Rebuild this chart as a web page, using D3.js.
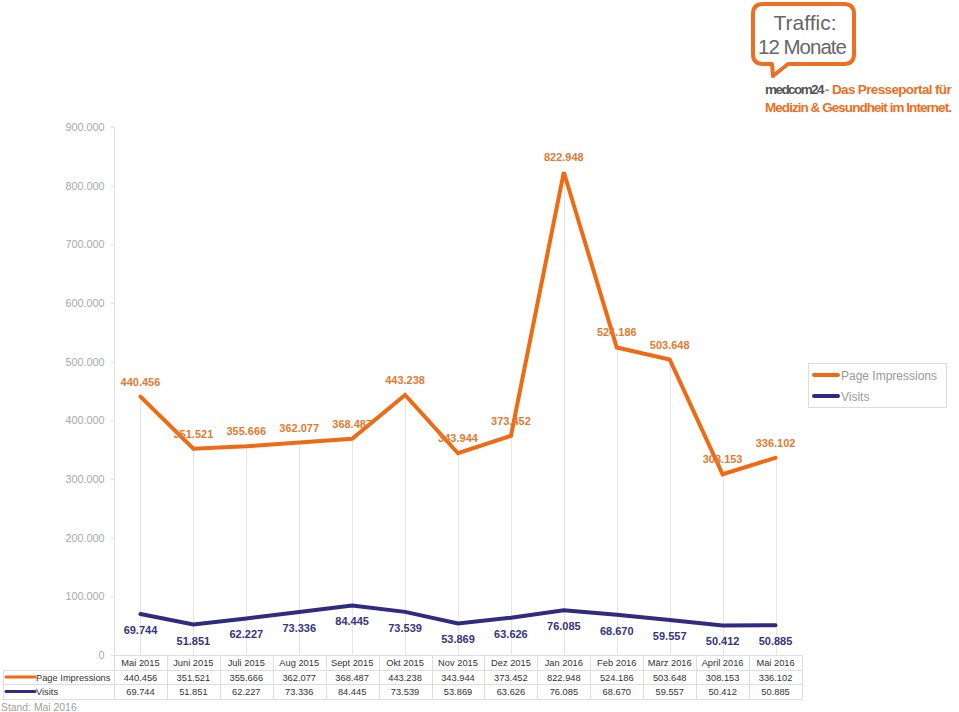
<!DOCTYPE html>
<html><head><meta charset="utf-8">
<script src="https://cdn.jsdelivr.net/npm/d3@7"></script>
<style>
html,body{margin:0;padding:0;background:#fff;}
svg{display:block;font-family:"Liberation Sans",Arial,sans-serif;}
</style></head>
<body><svg id="c" width="959" height="712"></svg>
<script>
const months = ["Mai 2015","Juni 2015","Juli 2015","Aug 2015","Sept 2015","Okt 2015","Nov 2015","Dez 2015","Jan 2016","Feb 2016","März 2016","April 2016","Mai 2016"];
const pageImpressions = [440456,351521,355666,362077,368487,443238,343944,373452,822948,524186,503648,308153,336102];
const visits = [69744,51851,62227,73336,84445,73539,53869,63626,76085,68670,59557,50412,50885];
const yTicks = [0,100000,200000,300000,400000,500000,600000,700000,800000,900000];
const seriesNames = ["Page Impressions","Visits"];
const seriesColors = ["#f06a14","#2e2b80"];
const labelColors = ["#e57a30","#36347f"];

const fmt = v => v === 0 ? "0" : d3.format(",.0f")(v).replace(/,/g, ".");
const svg = d3.select("#c");

const x = d3.scaleBand().domain(months).range([114, 802]).padding(0);
const cx = m => x(m) + x.bandwidth() / 2;
const y = d3.scaleLinear().domain([0, 900000]).range([655, 127]);

// y axis
const yAxis = svg.append("g").attr("transform", "translate(114.5,0)")
  .call(d3.axisLeft(y).tickValues(yTicks).tickFormat(fmt).tickSize(4).tickPadding(6));
yAxis.select(".domain").attr("stroke", "#e2e2e2").attr("d", "M-4," + y(900000) + "H0V" + y(0));
yAxis.selectAll(".tick line").attr("stroke", "#e2e2e2");
yAxis.selectAll(".tick text").attr("fill", "#a8a8a8").style("font-size", "10.8px").style("font-family", "Liberation Sans, Arial");

// drop lines
svg.append("g").selectAll("line").data(months).join("line")
  .attr("x1", d => Math.round(cx(d)) + 0.5).attr("x2", d => Math.round(cx(d)) + 0.5)
  .attr("y1", (d, i) => y(pageImpressions[i])).attr("y2", y(0))
  .attr("stroke", "#e6e6e6").attr("stroke-width", 1);

// lines
const series = [pageImpressions, visits];
series.forEach((s, k) => {
  const line = d3.line().x((d, i) => cx(months[i])).y(d => y(d));
  svg.append("path").datum(s).attr("d", line)
    .attr("fill", "none").attr("stroke", seriesColors[k]).attr("stroke-width", 4)
    .attr("stroke-linejoin", "miter").attr("stroke-linecap", "round");
});

// data labels
svg.append("g").selectAll("text").data(pageImpressions).join("text")
  .attr("x", (d, i) => cx(months[i])).attr("y", d => y(d) - 11)
  .attr("text-anchor", "middle").attr("fill", labelColors[0])
  .style("font-size", "11px").style("font-weight", "bold").text(fmt);
svg.append("g").selectAll("text").data(visits).join("text")
  .attr("x", (d, i) => cx(months[i])).attr("y", d => y(d) + 20)
  .attr("text-anchor", "middle").attr("fill", labelColors[1])
  .style("font-size", "11px").style("font-weight", "bold").text(fmt);

// data table
const tbl = svg.append("g");
const rowY = [655, 669.5, 684, 698.5];
const gridC = "#dedede";
tbl.append("line").attr("x1", 114).attr("x2", 802).attr("y1", rowY[0] + 0.5).attr("y2", rowY[0] + 0.5).attr("stroke", gridC);
[1, 2, 3].forEach(r => tbl.append("line").attr("x1", 3).attr("x2", 802).attr("y1", Math.round(rowY[r]) + 0.5).attr("y2", Math.round(rowY[r]) + 0.5).attr("stroke", gridC));
months.forEach(m => tbl.append("line").attr("x1", Math.round(x(m)) + 0.5).attr("x2", Math.round(x(m)) + 0.5).attr("y1", rowY[0]).attr("y2", Math.round(rowY[3]) + 0.5).attr("stroke", gridC));
tbl.append("line").attr("x1", 802.5).attr("x2", 802.5).attr("y1", rowY[0]).attr("y2", Math.round(rowY[3]) + 0.5).attr("stroke", gridC);
tbl.append("line").attr("x1", 3.5).attr("x2", 3.5).attr("y1", Math.round(rowY[1])).attr("y2", Math.round(rowY[3]) + 0.5).attr("stroke", gridC);
tbl.selectAll("text.h").data(months).join("text").attr("class", "h")
  .attr("x", d => cx(d)).attr("y", 666).attr("text-anchor", "middle")
  .attr("fill", "#333").style("font-size", "9.3px").text(d => d);
series.forEach((s, k) => {
  const ty = [680.5, 695][k];
  tbl.append("line").attr("x1", 6).attr("x2", 35).attr("y1", ty - 3.5).attr("y2", ty - 3.5)
    .attr("stroke", seriesColors[k]).attr("stroke-width", 3).attr("stroke-linecap", "round");
  tbl.append("text").attr("x", 36).attr("y", ty).attr("fill", "#333").style("font-size", "9.3px").text(seriesNames[k]);
  tbl.selectAll("text.v" + k).data(s).join("text").attr("class", "v" + k)
    .attr("x", (d, i) => cx(months[i])).attr("y", ty).attr("text-anchor", "middle")
    .attr("fill", "#333").style("font-size", "9.3px").text(fmt);
});
svg.append("text").attr("x", 1).attr("y", 711).attr("fill", "#a0a0a0").style("font-size", "10.4px").text("Stand: Mai 2016");

// legend
const lg = svg.append("g");
lg.append("rect").attr("x", 808.5).attr("y", 363.5).attr("width", 138).attr("height", 44)
  .attr("fill", "#fff").attr("stroke", "#dcdcdc");
seriesNames.forEach((n, k) => {
  const ly = [375, 396][k];
  lg.append("line").attr("x1", 814).attr("x2", 838).attr("y1", ly).attr("y2", ly)
    .attr("stroke", seriesColors[k]).attr("stroke-width", 4).attr("stroke-linecap", "round");
  lg.append("text").attr("x", 841).attr("y", ly + 4.5).attr("fill", "#9a9a9a").style("font-size", "12px").text(n);
});

// logo
const logo = svg.append("g");
logo.append("path")
  .attr("d", "M763,4 H844 Q854,4 854,14 V54 Q854,64 844,64 H788 L773,76 L772,64 H763 Q753,64 753,54 V14 Q753,4 763,4 Z")
  .attr("fill", "#fff").attr("stroke", "#ec6f22").attr("stroke-width", 4).attr("stroke-linejoin", "round");
logo.append("text").attr("x", 805).attr("y", 30).attr("text-anchor", "middle").attr("fill", "#666")
  .style("font-size", "21px").text("Traffic:");
logo.append("text").attr("x", 758).attr("y", 54).attr("fill", "#666")
  .style("font-size", "20.5px").style("letter-spacing", "-1px").text("12 Monate");

// fit a text to a target width by tightening letter spacing
function fitText(sel, width) {
  const n = sel.text().length;
  const w = sel.node().getComputedTextLength();
  sel.style("letter-spacing", ((width - w) / n) + "px");
  return sel;
}
const fs = "13.5px";
const a1 = logo.append("text").attr("x", 765).attr("y", 94).attr("fill", "#555")
  .style("font-size", fs).style("font-weight", "bold").text("medcom24");
fitText(a1, 58);
const a2 = logo.append("text").attr("x", 825).attr("y", 94).attr("fill", "#ec6f22")
  .style("font-size", fs).style("font-weight", "bold").text("- Das Presseportal für");
fitText(a2, 126);
const a3 = logo.append("text").attr("x", 765).attr("y", 112).attr("fill", "#ec6f22")
  .style("font-size", fs).style("font-weight", "bold").text("Medizin & Gesundheit im Internet.");
fitText(a3, 186);
</script></body></html>
